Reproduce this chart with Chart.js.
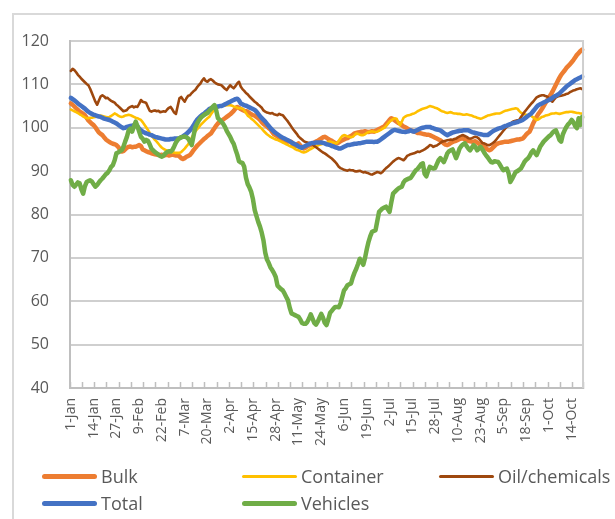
<!DOCTYPE html>
<html><head><meta charset="utf-8">
<script src="https://cdn.jsdelivr.net/npm/chart.js@4.4.1/dist/chart.umd.min.js"></script>
<style>
html,body{margin:0;padding:0;background:#fff;width:615px;height:519px;overflow:hidden;font-family:"Open Sans",sans-serif;}
#frame{position:absolute;left:12px;top:13px;width:700px;height:600px;border:2px solid #d9d9d9;box-sizing:border-box;}
#wrap{position:absolute;left:0;top:0;width:615px;height:519px;}
#legend{position:absolute;left:0;top:0;width:615px;height:519px;pointer-events:none;}
.item{position:absolute;display:flex;align-items:center;height:26px;color:#595959;font-size:18px;white-space:nowrap;}
.sw{display:inline-block;width:55px;border-radius:3px;margin-right:4px;}
</style></head>
<body>
<div id="frame"></div>
<div id="wrap"><canvas id="c" width="615" height="519"></canvas></div>
<div id="legend"></div>
<script>
// ---- categories: daily, 1-Jan .. 20-Oct ----
const monthNames = ["Jan","Feb","Mar","Apr","May","Jun","Jul","Aug","Sep","Oct","Nov","Dec"];
const monthDays = [31,28,31,30,31,30,31,31,30,31,30,31];
const dayCount = 293;
const labelEvery = 13;   // tick label interval (days)
const tickEvery = 7;     // tick mark interval (days)
const yTicks = [40,50,60,70,80,90,100,110,120];

const categories = [];
(function(){ let m=0,d=1; for(let i=0;i<dayCount;i++){ categories.push(d+"-"+monthNames[m]); d++; if(d>monthDays[m]){d=1;m++;} } })();

const seriesNames = ["Bulk","Container","Oil/chemicals","Total","Vehicles"];

const bulk = [
105.6,105.3,104.9,104.5,104.1,103.7,103.5,103.2,102.9,102.3,
101.7,101.3,100.9,100.6,100.1,99.5,98.9,98.6,98.3,97.8,
97.3,97.0,96.7,96.5,96.3,96.2,96.0,95.6,95.0,94.5,
94.6,95.0,95.4,95.6,95.7,95.5,95.6,95.6,95.8,96.0,
95.8,95.0,94.8,94.6,94.4,94.3,94.1,94.0,93.9,93.8,
93.7,93.7,93.8,93.6,93.7,93.8,93.6,93.7,93.8,93.7,
93.6,93.7,93.4,93.0,92.8,93.0,93.3,93.5,93.7,94.2,
94.8,95.3,95.8,96.2,96.6,97.0,97.4,97.7,98.1,98.4,
98.7,99.3,99.9,100.5,101.0,101.3,101.6,101.9,102.2,102.5,
102.8,103.1,103.5,103.9,104.4,104.8,104.6,104.3,104.1,103.9,
103.8,103.7,103.4,103.1,102.9,102.8,102.5,102.2,101.8,101.3,
100.9,100.6,100.3,99.9,99.6,99.0,98.5,98.3,98.0,97.6,
97.3,97.0,96.9,96.8,96.8,96.9,96.7,96.0,95.7,96.1,
96.4,95.9,95.4,95.2,95.4,95.7,95.9,96.0,96.3,96.6,
96.8,97.0,97.3,97.5,97.8,97.9,97.7,97.4,97.2,97.0,
96.7,96.5,96.4,96.6,96.9,97.1,97.3,97.5,97.6,97.9,
98.1,98.4,98.7,98.8,98.9,99.0,99.1,99.1,99.2,99.1,
99.0,99.1,99.2,99.1,99.3,99.5,99.7,99.9,100.1,100.3,
100.8,101.3,101.8,102.2,102.0,101.7,101.4,101.1,100.9,100.6,
100.3,100.1,99.9,99.6,99.4,99.3,99.1,99.0,98.8,98.8,
98.7,98.6,98.5,98.4,98.4,98.3,98.1,97.9,97.7,97.5,
97.3,97.1,96.8,96.4,96.1,96.0,96.2,96.5,96.7,96.9,
97.0,97.2,97.4,97.5,97.5,97.3,97.1,97.0,96.9,96.8,
96.8,96.9,96.6,96.3,96.0,95.8,95.5,95.3,95.0,94.8,
95.0,95.4,95.8,96.2,96.4,96.5,96.6,96.7,96.8,96.8,
96.8,96.9,97.0,97.1,97.2,97.3,97.3,97.4,97.5,97.9,
98.4,98.8,99.1,100.0,101.0,101.8,102.5,103.2,103.7,104.3,
105.0,105.7,106.3,107.0,107.6,108.3,109.1,109.9,110.7,111.5,
112.2,112.7,113.2,113.8,114.2,114.6,115.1,115.6,116.2,116.8,
117.2,117.7,118.0];

const container = [
104.2,104.0,103.8,103.6,103.4,103.1,102.9,102.6,102.4,102.2,
102.2,102.3,102.3,102.4,102.5,102.6,102.7,102.8,102.7,102.6,
102.5,102.4,102.5,102.7,103.0,103.3,103.1,102.8,102.6,102.5,
102.6,102.8,102.9,103.0,102.9,102.7,102.5,102.3,102.2,102.0,
101.8,101.3,100.7,100.1,99.5,98.8,98.2,97.7,97.2,96.8,
96.3,95.8,95.4,95.1,94.9,94.7,94.5,94.4,94.3,94.3,
94.2,94.2,94.2,94.4,94.8,95.2,95.7,96.2,96.9,97.7,
98.4,99.1,99.6,100.1,100.6,101.0,101.4,101.8,102.2,102.5,
103.1,103.7,104.3,104.5,104.7,104.9,105.0,105.1,105.1,105.2,
105.2,105.2,105.1,104.9,104.8,104.6,104.5,104.5,104.4,104.0,
103.4,102.8,102.5,102.1,101.8,101.4,101.0,100.6,100.2,99.8,
99.3,98.9,98.5,98.2,97.9,97.7,97.5,97.3,97.2,97.0,
96.8,96.6,96.4,96.2,96.0,95.8,95.6,95.4,95.1,94.9,
94.8,94.6,94.4,94.3,94.4,94.6,94.9,95.1,95.3,95.6,
95.8,95.9,96.1,96.2,96.3,96.4,96.5,96.7,96.8,96.7,
96.6,96.4,96.5,97.0,97.6,98.1,98.3,98.2,98.0,97.9,
97.8,97.9,98.3,98.7,98.6,98.4,98.3,98.3,98.5,98.8,
99.0,99.1,99.2,99.1,99.0,99.1,99.3,99.5,99.8,100.0,
100.4,100.9,101.4,101.7,102.0,102.2,102.1,101.2,100.6,101.4,
102.3,102.6,102.8,102.9,103.0,103.2,103.3,103.5,103.8,104.0,
104.2,104.4,104.5,104.6,104.8,105.0,104.9,104.8,104.6,104.5,
104.3,104.0,103.8,103.7,103.5,103.4,103.5,103.6,103.4,103.3,
103.3,103.2,103.2,103.1,103.0,103.0,103.1,103.0,102.9,102.8,
102.6,102.5,102.3,102.2,102.1,102.2,102.4,102.6,102.8,102.9,
103.0,103.1,103.2,103.3,103.3,103.3,103.5,103.7,103.9,104.0,
104.1,104.2,104.3,104.4,104.5,104.4,103.9,103.5,103.3,103.1,
103.0,102.9,102.9,102.7,102.4,102.1,101.8,101.9,102.2,102.5,
102.6,102.8,102.9,103.0,103.2,103.3,103.3,103.4,103.3,103.2,
103.3,103.4,103.5,103.6,103.6,103.7,103.7,103.6,103.5,103.4,
103.4,103.3,103.3];

const oilChemicals = [
113.1,113.6,113.3,112.8,112.2,111.8,111.3,110.9,110.5,110.1,
109.8,109.0,108.0,107.0,106.0,105.3,106.3,107.2,107.5,107.2,
106.8,106.9,106.5,106.2,106.0,105.8,105.3,105.0,104.6,104.2,
103.8,103.9,104.1,104.6,104.8,105.0,104.7,104.9,104.8,105.5,
106.4,106.0,105.9,105.7,104.8,103.9,103.7,103.9,104.0,103.8,
103.9,103.6,103.7,103.8,103.7,104.2,104.6,104.8,104.2,103.5,
103.2,105.0,106.8,107.1,106.5,106.0,106.8,107.4,107.5,108.0,
108.4,108.7,109.3,109.8,110.2,110.9,111.4,110.8,110.6,111.0,
111.2,110.9,110.5,110.2,110.0,109.9,109.8,109.4,109.0,108.7,
109.3,109.8,109.4,109.1,109.6,110.2,110.6,109.5,108.9,108.5,
108.0,107.7,107.2,106.8,106.4,106.0,105.7,105.3,105.0,104.6,
104.0,103.7,103.5,103.4,103.3,103.4,103.1,103.0,102.9,103.2,
103.0,102.9,102.4,101.9,101.4,100.8,100.2,99.6,99.1,98.6,
98.0,97.6,97.3,96.9,96.7,96.6,96.5,96.4,96.2,95.8,
95.5,95.2,94.9,94.6,94.3,94.1,93.8,93.5,93.2,92.9,
92.5,92.1,91.6,91.0,90.7,90.5,90.3,90.2,90.1,90.3,
90.2,90.2,90.0,89.9,90.0,90.1,89.9,89.7,89.8,89.6,
89.5,89.3,89.2,89.4,89.6,89.8,89.7,89.5,89.8,90.3,
90.7,91.0,91.4,91.8,92.2,92.5,92.8,93.0,92.9,92.7,
92.5,92.9,93.5,93.7,93.9,94.0,94.1,94.3,94.5,94.4,
94.6,94.8,95.0,95.3,95.6,96.0,95.9,95.6,95.8,95.9,
96.2,96.5,96.8,96.9,97.0,97.1,97.2,97.3,97.2,97.4,
97.5,97.8,98.0,98.2,98.3,98.1,97.9,97.6,97.5,97.6,
97.8,97.9,97.8,97.5,97.0,96.5,96.4,96.2,96.0,96.0,
96.2,96.5,96.8,97.3,97.8,98.3,98.8,99.3,99.8,100.2,
100.5,100.9,101.3,101.5,101.6,101.7,101.8,102.4,103.0,103.6,
104.1,104.6,105.1,105.6,106.0,106.5,107.0,107.2,107.4,107.5,
107.5,107.3,107.2,106.8,106.3,106.0,106.5,107.0,107.2,107.3,
107.4,107.5,107.6,107.8,107.9,108.2,108.4,108.6,108.7,108.9,
109.0,109.1,108.9];

const total = [
106.9,106.6,106.3,106.0,105.6,105.3,105.0,104.7,104.4,104.0,
103.7,103.4,103.2,103.0,102.9,102.7,102.6,102.5,102.3,102.1,
102.0,101.9,101.8,101.6,101.4,101.2,101.0,100.7,100.4,100.1,
99.9,100.0,100.2,100.3,100.4,100.5,100.6,100.6,100.3,99.8,
99.4,99.1,98.9,98.7,98.6,98.4,98.3,98.1,97.9,97.8,
97.7,97.6,97.5,97.4,97.3,97.3,97.3,97.4,97.4,97.5,
97.5,97.5,97.6,97.8,98.0,98.3,98.6,99.0,99.4,99.9,
100.5,101.2,101.8,102.2,102.6,103.0,103.2,103.6,103.9,104.3,
104.5,104.7,104.8,104.8,104.9,105.0,105.0,105.2,105.4,105.6,
105.8,106.0,106.2,106.4,106.6,106.7,106.3,105.6,105.4,105.2,
105.1,104.9,104.7,104.5,104.3,104.1,103.7,103.2,102.7,102.2,
101.8,101.4,100.9,100.4,99.9,99.5,99.1,98.8,98.5,98.2,
97.9,97.7,97.5,97.3,97.1,96.9,96.6,96.4,96.2,96.0,
95.7,95.5,95.4,95.6,95.8,96.0,96.2,96.4,96.5,96.5,
96.6,96.6,96.6,96.6,96.5,96.4,96.2,96.1,96.0,95.8,
95.7,95.5,95.4,95.2,95.2,95.4,95.6,95.8,96.0,96.0,
96.1,96.2,96.3,96.3,96.4,96.4,96.5,96.6,96.7,96.8,
96.8,96.8,96.8,96.7,96.8,96.8,97.0,97.3,97.6,97.9,
98.2,98.5,98.8,99.1,99.4,99.5,99.4,99.3,99.2,99.1,
99.1,99.0,99.1,99.2,99.4,99.2,99.1,99.3,99.5,99.7,
99.9,100.0,100.1,100.2,100.2,100.2,100.0,99.9,99.7,99.6,
99.5,99.4,99.1,98.8,98.5,98.3,98.5,98.7,98.9,99.0,
99.1,99.2,99.3,99.3,99.4,99.4,99.4,99.4,99.2,99.0,
98.9,98.8,98.7,98.6,98.5,98.4,98.3,98.3,98.3,98.6,
98.9,99.2,99.4,99.6,99.8,99.9,100.0,100.2,100.4,100.5,
100.7,100.8,101.0,101.1,101.2,101.3,101.5,101.6,101.8,102.1,
102.4,102.7,103.0,103.3,103.8,104.3,104.8,105.2,105.4,105.6,
105.8,106.0,106.2,106.4,106.6,106.9,107.2,107.4,107.6,107.9,
108.3,108.7,109.1,109.5,109.8,110.1,110.4,110.7,111.0,111.2,
111.4,111.6,111.8];

const vehicles = [
87.9,86.8,86.4,86.9,87.4,87.2,85.8,84.8,86.5,87.5,
87.7,87.9,87.6,87.0,86.4,86.8,87.4,87.9,88.3,88.8,
89.3,89.6,90.2,91.0,91.4,92.5,94.1,94.3,94.6,94.8,
95.6,96.8,97.9,99.4,99.8,99.1,100.3,101.4,100.4,99.1,
97.9,97.5,96.8,97.2,97.0,96.2,95.2,94.8,94.4,94.1,
93.8,93.5,93.3,93.6,94.1,94.4,94.6,94.5,94.9,95.7,
96.6,97.2,97.6,97.8,97.9,98.0,97.8,97.5,96.8,96.0,
98.0,100.0,100.9,101.6,102.2,102.6,102.9,103.2,103.4,103.9,
104.3,104.8,105.2,104.0,102.2,101.8,101.4,100.9,100.2,99.3,
98.6,97.9,97.0,96.3,95.0,93.8,92.3,92.0,91.9,91.0,
88.5,87.0,86.2,85.2,83.5,81.0,79.6,78.3,77.2,75.8,
74.0,71.2,69.6,68.8,67.8,67.2,66.5,65.6,63.6,63.2,
62.8,62.5,61.8,61.0,60.2,58.5,57.2,57.0,56.8,56.6,
56.4,55.8,55.0,54.8,54.8,55.2,56.0,57.0,56.0,55.0,
54.6,55.3,56.2,57.1,56.2,55.0,54.5,55.8,57.3,57.8,
58.3,58.7,58.7,58.6,59.5,61.0,62.5,63.0,63.7,63.9,
64.1,65.5,66.6,67.5,68.6,69.8,69.2,68.4,70.0,72.0,
73.7,75.0,76.0,76.2,76.4,78.5,80.6,81.0,81.4,81.6,
81.8,81.2,80.6,82.8,84.8,85.2,85.6,86.0,86.2,86.4,
87.4,87.9,88.1,88.3,88.4,89.0,89.6,90.2,90.5,91.0,
91.6,91.8,89.4,88.8,90.0,91.0,90.8,90.6,90.7,91.6,
92.5,93.0,92.6,92.1,93.0,94.1,94.6,94.8,95.0,94.0,
93.0,94.0,95.2,95.8,96.2,96.4,95.8,95.2,94.8,95.4,
96.0,95.6,94.8,95.2,95.6,95.0,94.3,93.7,93.2,92.6,
92.1,92.0,92.3,92.2,92.1,91.5,90.8,90.2,90.4,90.6,
89.5,87.5,88.2,89.0,89.8,90.0,90.3,90.6,91.3,92.1,
92.6,92.9,93.5,94.3,94.8,94.2,93.7,94.6,95.6,96.2,
96.8,97.2,97.6,98.0,98.3,98.8,99.2,99.4,98.4,97.2,
96.8,98.5,99.4,100.2,100.8,101.2,101.8,101.3,100.4,99.9,
102.2,100.6,102.5];

const seriesColors = ["#ED7D31","#FFC000","#9E480E","#4472C4","#70AD47"];
const seriesWidths = [4.5,2.6,2.6,4.5,4.5];
const seriesValues = [bulk, container, oilChemicals, total, vehicles];
const drawOrder = [5,4,3,2,1];

const gridGray = "#cfcfcf";
const textGray = "#595959";

const framePlugin = {
  id:"plotFrame",
  afterDatasetsDraw(chart){
    const a = chart.chartArea, ctx = chart.ctx;
    ctx.save();
    ctx.strokeStyle = gridGray; ctx.lineWidth = 2;
    ctx.beginPath(); ctx.moveTo(a.right, a.top-1); ctx.lineTo(a.right, a.bottom); ctx.stroke();
    ctx.restore();
  }
};

const chart = new Chart(document.getElementById("c"), {
  type:"line",
  data:{
    labels: categories,
    datasets: seriesNames.map((n,i)=>({
      label:n, data:seriesValues[i], borderColor:seriesColors[i], backgroundColor:seriesColors[i],
      borderWidth:seriesWidths[i], pointRadius:0, tension:0, fill:false,
      borderJoinStyle:"round", borderCapStyle:"round", order:drawOrder[i]
    }))
  },
  options:{
    responsive:false, animation:false, events:[],
    layout:{padding:{top:41,right:27,left:0,bottom:0}},
    plugins:{legend:{display:false}, tooltip:{enabled:false}},
    scales:{
      x:{
        type:"category", offset:true,
        afterFit(s){ s.height = 131; },
        grid:{offset:true, drawOnChartArea:false, drawTicks:true, tickLength:-6, tickWidth:1.5,
          tickColor:(c)=> (c.index===undefined || c.index % tickEvery === 0) ? "#bfbfbf" : "rgba(0,0,0,0)"},
        border:{display:true, color:"#bfbfbf", width:2},
        ticks:{autoSkip:false, maxRotation:90, minRotation:90, padding:16, color:textGray,
          font:{family:"Open Sans", size:14},
          callback:(v,i)=> i % labelEvery === 0 ? categories[i] : ""}
      },
      y:{
        min:yTicks[0], max:yTicks[yTicks.length-1],
        afterFit(s){ s.width = 70; },
        afterBuildTicks(s){ s.ticks = yTicks.map(v=>({value:v})); },
        grid:{color:gridGray, lineWidth:2, drawTicks:false},
        border:{display:true, color:"#bfbfbf", width:2},
        ticks:{padding:21, color:textGray, font:{family:"Open Sans", size:16}}
      }
    }
  },
  plugins:[framePlugin]
});

// HTML legend from datasets
const legendCols = [42, 242, 439];
const legendRows = [476, 503];
const lg = document.getElementById("legend");
chart.data.datasets.forEach((ds,i)=>{
  const col = i % 3, row = Math.floor(i/3);
  const it = document.createElement("div");
  it.className = "item";
  it.style.left = legendCols[col]+"px";
  it.style.top = (legendRows[row]-13)+"px";
  const sw = document.createElement("span");
  sw.className = "sw";
  sw.style.background = ds.borderColor;
  sw.style.height = (ds.borderWidth > 3 ? 5 : 3) + "px";
  it.appendChild(sw);
  const tx = document.createElement("span");
  tx.textContent = ds.label;
  it.appendChild(tx);
  lg.appendChild(it);
});
</script>
</body></html>
